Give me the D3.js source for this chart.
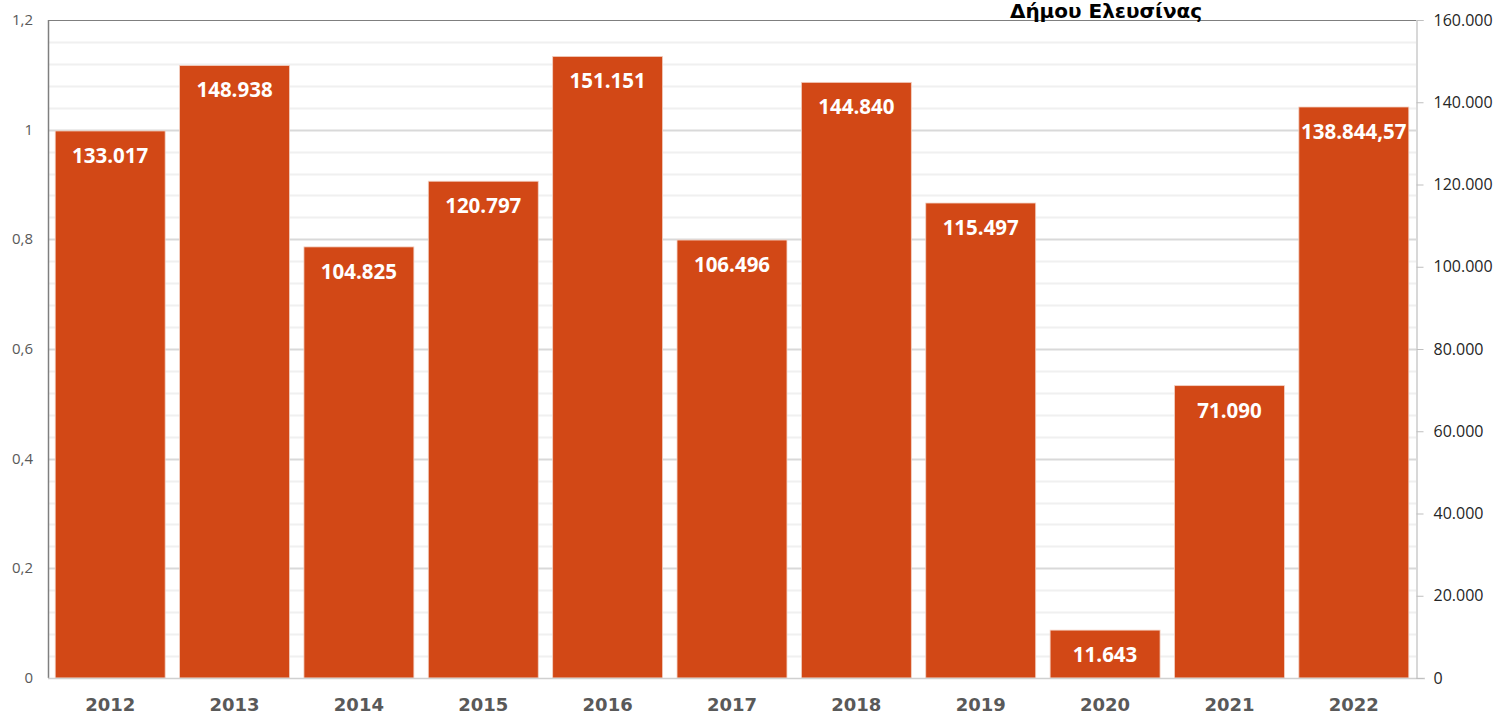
<!DOCTYPE html>
<html>
<head>
<meta charset="utf-8">
<script src="https://cdn.jsdelivr.net/npm/d3@7.9.0/dist/d3.min.js"></script>
<style>
  body { margin: 0; background: #fff; }
  svg { display: block; }
</style>
</head>
<body>
<div id="chart"></div>
<script>
const years = ['2012', '2013', '2014', '2015', '2016', '2017', '2018', '2019', '2020', '2021', '2022'];
const values = [133017, 148938, 104825, 120797, 151151, 106496, 144840, 115497, 11643, 71090, 138844.57];
const labels = ['133.017', '148.938', '104.825', '120.797', '151.151', '106.496', '144.840', '115.497', '11.643', '71.090', '138.844,57'];
const leftTicks = [0, 0.2, 0.4, 0.6, 0.8, 1, 1.2];
const rightTicks = [0, 20000, 40000, 60000, 80000, 100000, 120000, 140000, 160000];
const title = 'Δήμου Ελευσίνας';

const width = 1501, height = 715;
const area = { left: 48, right: 1416, top: 20, bottom: 678 };

const svg = d3.select('#chart').append('svg')
  .attr('width', width).attr('height', height);

const x = d3.scaleBand().domain(years)
  .range([area.left, area.right])
  .paddingInner(0.116).paddingOuter(0.058);

const yLeft = d3.scaleLinear().domain([0, 1.2]).range([area.bottom, area.top]);
const yRight = d3.scaleLinear().domain([0, 160000]).range([area.bottom, area.top]);

// minor gridlines every 0.04, major every 0.2
const minor = d3.range(1, 30).map(i => i * 0.04);
svg.append('g')
  .selectAll('line')
  .data(minor)
  .join('line')
  .attr('x1', area.left).attr('x2', area.right)
  .attr('y1', d => Math.round(yLeft(d)) + 0.5)
  .attr('y2', d => Math.round(yLeft(d)) + 0.5)
  .attr('stroke', d => Math.abs(d / 0.2 - Math.round(d / 0.2)) < 1e-6 ? '#d9d9d9' : '#f0f0f0')
  .attr('stroke-width', 2);

// top border
svg.append('line')
  .attr('x1', area.left).attr('x2', area.right)
  .attr('y1', area.top + 0.5).attr('y2', area.top + 0.5)
  .attr('stroke', '#7f7f7f').attr('stroke-width', 1.2);

// bars
svg.append('g')
  .selectAll('rect')
  .data(values)
  .join('rect')
  .attr('x', (d, i) => x(years[i]))
  .attr('width', x.bandwidth())
  .attr('y', d => yRight(d))
  .attr('height', d => yRight(0) - yRight(d))
  .attr('fill', '#d24816')
  .attr('stroke', '#f3d2c4')
  .attr('stroke-width', 0.8);

// value labels
svg.append('g')
  .selectAll('text')
  .data(values)
  .join('text')
  .attr('x', (d, i) => x(years[i]) + x.bandwidth() / 2)
  .attr('y', d => yRight(d) + 32)
  .attr('text-anchor', 'middle')
  .attr('fill', '#fff')
  .attr('font-family', 'Open Sans, sans-serif')
  .attr('font-weight', 700)
  .attr('font-size', 20.5)
  .text((d, i) => labels[i]);

// left axis
svg.append('line')
  .attr('x1', area.left + 0.5).attr('x2', area.left + 0.5)
  .attr('y1', area.top).attr('y2', area.bottom)
  .attr('stroke', '#7f7f7f').attr('stroke-width', 1.5);

svg.append('g')
  .selectAll('text')
  .data(leftTicks)
  .join('text')
  .attr('x', 33)
  .attr('y', d => yLeft(d) + 5)
  .attr('text-anchor', 'end')
  .attr('fill', '#595959')
  .attr('font-family', 'Open Sans, sans-serif')
  .attr('font-size', 15)
  .text(d => d3.format('~g')(d).replace('.', ','));

// bottom axis line
svg.append('line')
  .attr('x1', area.left).attr('x2', area.right + 9)
  .attr('y1', area.bottom + 0.5).attr('y2', area.bottom + 0.5)
  .attr('stroke', '#d0d0d0').attr('stroke-width', 1.5);

// right axis
const rightAxis = d3.axisRight(yRight)
  .tickValues(rightTicks)
  .tickSize(7)
  .tickPadding(10)
  .tickFormat(d => d3.format(',')(d).replace(/,/g, '.'));

const gr = svg.append('g')
  .attr('transform', `translate(${area.right + 0.5},0)`)
  .call(rightAxis);
gr.select('.domain').attr('stroke', '#bfbfbf').attr('stroke-width', 1.2);
gr.selectAll('.tick line').attr('stroke', '#bfbfbf');
gr.selectAll('.tick text')
  .attr('fill', '#262626')
  .attr('font-family', 'Open Sans, sans-serif')
  .attr('font-size', 16);

// x labels
svg.append('g')
  .selectAll('text')
  .data(years)
  .join('text')
  .attr('x', d => x(d) + x.bandwidth() / 2)
  .attr('y', 711)
  .attr('text-anchor', 'middle')
  .attr('fill', '#595959')
  .attr('font-family', 'DejaVu Sans, sans-serif')
  .attr('font-weight', 700)
  .attr('font-size', 18)
  .text(d => d);

// title
svg.append('text')
  .attr('x', 1106)
  .attr('y', 18)
  .attr('text-anchor', 'middle')
  .attr('fill', '#000')
  .attr('font-family', 'DejaVu Sans, sans-serif')
  .attr('font-weight', 700)
  .attr('font-size', 20)
  .text(title);
</script>
</body>
</html>
